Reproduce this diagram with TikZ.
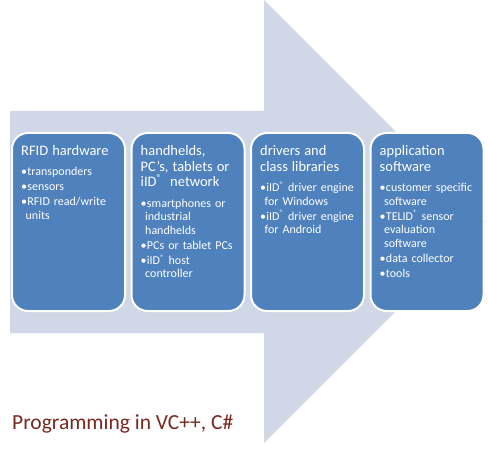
\documentclass[tikz,border=0pt]{standalone}
\usepackage{fontspec}
\setmainfont{Carlito}
\usepackage{xcolor}
\usepackage{tikz}
\usetikzlibrary{positioning}

\definecolor{arrowgray}{RGB}{208,216,232}
\definecolor{panelblue}{RGB}{79,129,189}
\definecolor{progred}{RGB}{120,40,30}

\newcommand{\ptitle}[1]{{\fontsize{14.5}{15.8}\selectfont #1\par}\vspace{5.5pt}}
\newcommand{\pitem}[1]{\par\vspace{1.5pt}\hangindent=4.5pt\hangafter=1\noindent\textbullet\hspace{0.3pt}#1\par}
\newcommand{\reg}{\textsuperscript{\textregistered}}

\begin{document}
\begin{tikzpicture}[
  x=1pt, y=-1pt,
  panel/.style={draw=white, line width=2pt, fill=panelblue, rounded corners=16pt,
                minimum width=113pt, minimum height=178pt, inner sep=0pt},
  paneltxt/.style={anchor=north west, inner sep=0pt, text width=102pt, align=left,
                   text=white, font=\fontsize{12}{13.5}\selectfont},
  prog/.style={anchor=west, inner sep=0pt, text=progred, font=\fontsize{21.5}{25}\selectfont}
]
  \useasboundingbox (0,0) rectangle (488,452);

  % big background arrow
  \fill[arrowgray] (10,111) -- (264,111) -- (264,0) -- (485.5,221.5)
    -- (264,443) -- (264,333) -- (10,333) -- cycle;

  % the four panels
  \node[panel] (hw) at (68.5,222) {};
  \node[panel, right=4.5pt of hw] (host) {};
  \node[panel, right=4.5pt of host] (drv) {};
  \node[panel, right=4.5pt of drv] (app) {};

  \node[paneltxt] (hwtxt) at ([xshift=10pt,yshift=-13pt]hw.north west) {%
    \setlength{\parskip}{0pt}\ptitle{RFID hardware}%
    \pitem{transponders}\pitem{sensors}\pitem{RFID read/write\newline units}};
  \node[paneltxt] (hosttxt) at ([xshift=10pt,yshift=-13pt]host.north west) {%
    \setlength{\parskip}{0pt}\ptitle{handhelds,\\PC's, tablets or\\iID\reg\ \ network}%
    \pitem{smartphones or\newline industrial\newline handhelds}\pitem{PCs or tablet PCs}%
    \pitem{iID\reg\ host\newline controller}};
  \node[paneltxt] (drvtxt) at ([xshift=10pt,yshift=-13pt]drv.north west) {%
    \setlength{\parskip}{0pt}\ptitle{drivers and\\class libraries}%
    \pitem{iID\reg\ driver engine\newline for Windows}\pitem{iID\reg\ driver engine\newline for Android}};
  \node[paneltxt] (apptxt) at ([xshift=10pt,yshift=-13pt]app.north west) {%
    \setlength{\parskip}{0pt}\ptitle{application\\software}%
    \pitem{customer specific\newline software}\pitem{TELID\reg\ sensor\newline evaluation\newline software}%
    \pitem{data collector}\pitem{tools}};

  \node[prog] (lang) at (12,424) {Programming in VC++, C\#};
\end{tikzpicture}
\end{document}
